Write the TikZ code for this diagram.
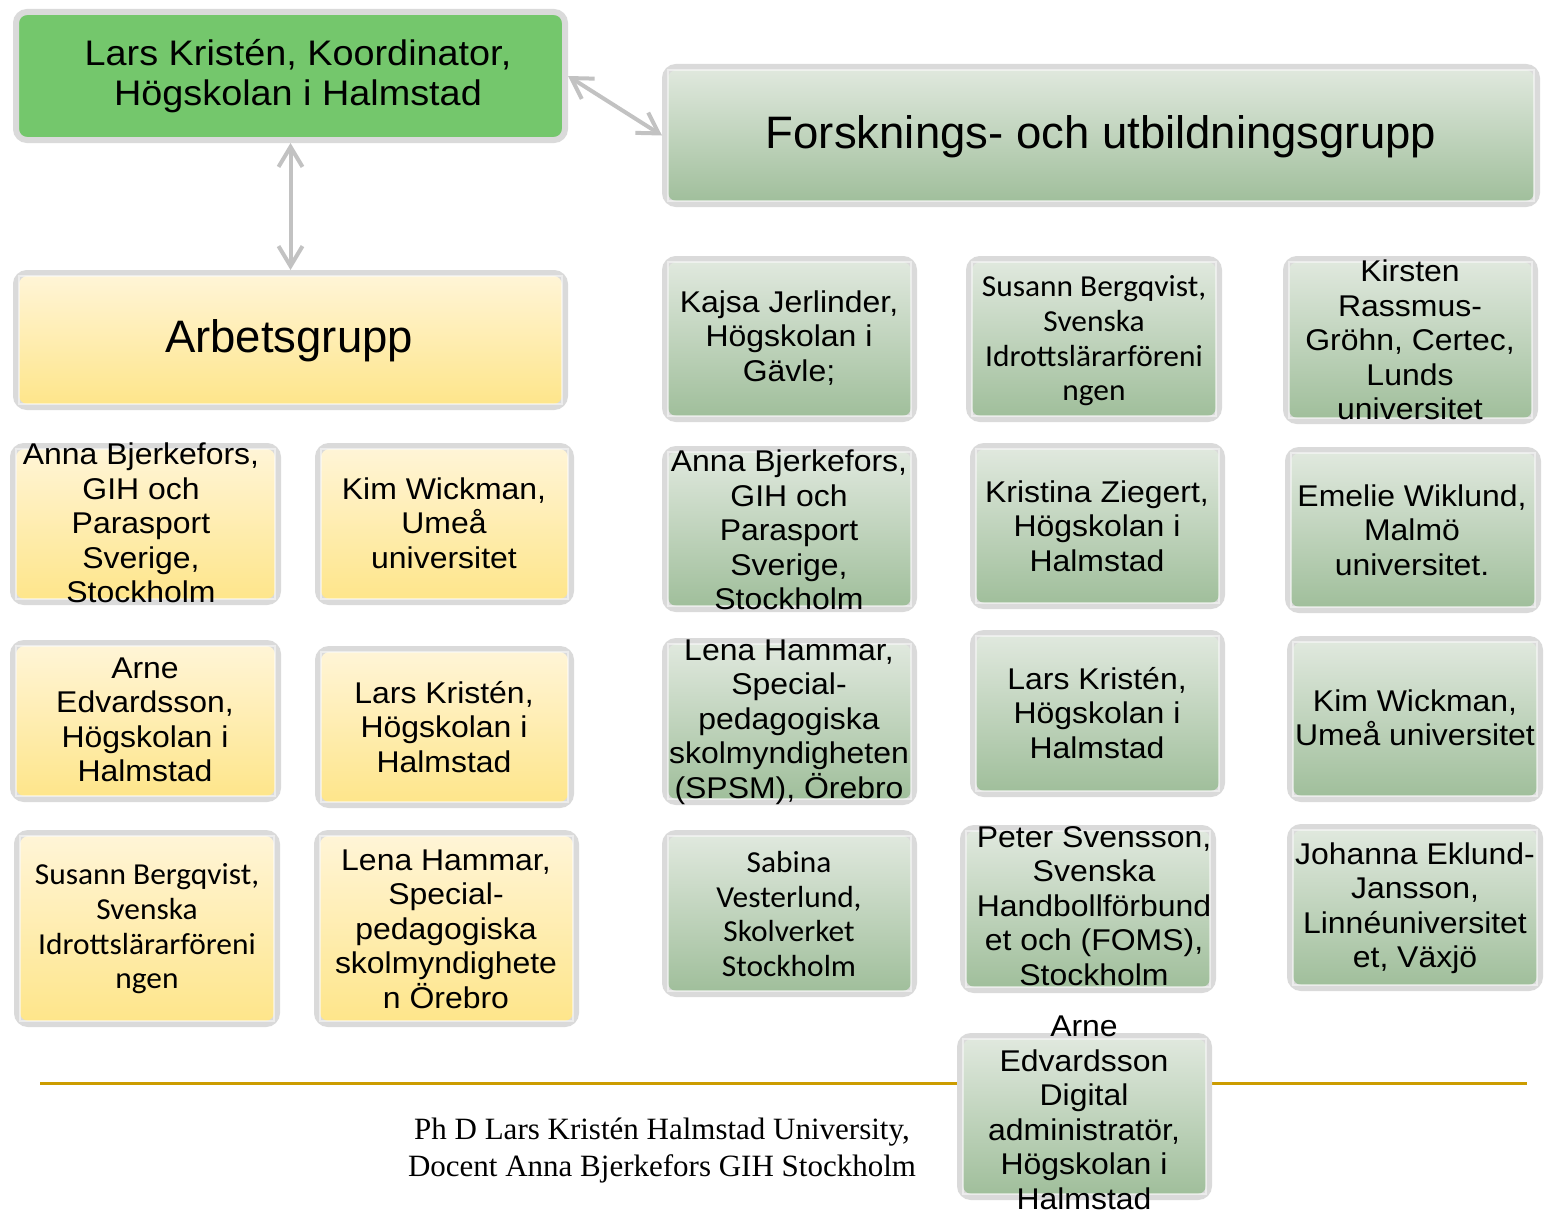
\documentclass[tikz,border=0pt]{standalone}
\usepackage{fontspec}
\setmainfont{Liberation Sans}
\newfontfamily\arialw{Liberation Sans}[FakeStretch=1.065]
\newfontfamily\calfont{Carlito}[FakeStretch=1.03]
\newfontfamily\serfont{Liberation Serif}
\usetikzlibrary{arrows.meta,shadings}
\definecolor{boxgray}{HTML}{DADADA}
\definecolor{gtop}{HTML}{E1E9DF}
\definecolor{gbot}{HTML}{9FBE9A}
\definecolor{ytop}{HTML}{FFF5D8}
\definecolor{ybot}{HTML}{FEE589}
\definecolor{koordgreen}{HTML}{74C76C}
\definecolor{arrgray}{HTML}{C2C2C2}
\definecolor{gold}{HTML}{CC9C00}
\tikzset{
  boxbase/.style={rectangle, rounded corners=11pt, draw=boxgray, line width=6pt, inner sep=0pt},
  gbox/.style={boxbase, top color=gtop, bottom color=gbot},
  ybox/.style={boxbase, top color=ytop, bottom color=ybot},
  kbox/.style={boxbase, fill=koordgreen},
  innerline/.style={draw=white, draw opacity=0.5, line width=1.5pt},
  txt/.style={align=center, inner sep=0pt, text=black},
  ftA/.style={txt, font=\arialw\fontsize{30}{34.5}\selectfont},
  ftC/.style={txt, font=\calfont\fontsize{30.5}{34.6}\selectfont},
  conn/.style={draw=arrgray, line width=4pt, {Straight Barb[length=20pt,width=24pt]}-{Straight Barb[length=20pt,width=24pt]}},
}
% style, name, x1, y1, x2, y2
\newcommand\bx[6]{\node[#1, minimum width={#5-#3-6}, minimum height={#6-#4-6}] (#2) at ({(#3+#5)/2},{(#4+#6)/2}) {};}
\newcommand\bxi[6]{\bx{#1}{#2}{#3}{#4}{#5}{#6}\draw[innerline] ([shift={(6,-6)}]#2.south west) rectangle ([shift={(-6,6)}]#2.north east);}
\begin{document}
\begin{tikzpicture}[x=1pt,y=-1pt]
\useasboundingbox (0,0) rectangle (1546,1215);
% footer line
\coordinate (fl) at (40,1083);
\coordinate (fr) at (1527,1083);
\draw[gold, line width=3pt] (fl) -- (fr);
% main boxes
\bx{kbox}{koord}{13}{9}{568}{143}
\node[txt, font=\arialw\fontsize{35.5}{40}\selectfont] (koordt) at (298,76) {Lars Kristén, Koordinator,\\Högskolan i Halmstad};
\bxi{gbox}{forsk}{662}{64}{1540}{207}
\node[txt, font=\fontsize{45.5}{52}\selectfont] (forskt) at (1101,137) {Forsknings- och utbildningsgrupp};
\bxi{ybox}{arb}{13}{270}{568}{410}
\node[txt, font=\fontsize{45.5}{52}\selectfont] (arbt) at (289,341) {Arbetsgrupp};
% connectors
\draw[conn] (koord.south) -- (arb.north);
\draw[conn] (koord.east) -- (forsk.west);
% left yellow boxes
\bxi{ybox}{y11}{10}{443}{281}{605}
\node[ftA] (y11t) at (141,523) {Anna Bjerkefors,\\GIH och\\Parasport\\Sverige,\\Stockholm};
\bxi{ybox}{y12}{315}{443}{574}{605}
\node[ftA] (y12t) at (444,523) {Kim Wickman,\\Umeå\\universitet};
\bxi{ybox}{y21}{10}{640}{281}{802}
\node[ftA] (y21t) at (145,720) {Arne\\Edvardsson,\\Högskolan i\\Halmstad};
\bxi{ybox}{y22}{315}{646}{574}{808}
\node[ftA] (y22t) at (444,727) {Lars Kristén,\\Högskolan i\\Halmstad};
\bxi{ybox}{y31}{14}{830}{280}{1027}
\node[ftC] (y31t) at (147,929) {Susann Bergqvist,\\Svenska\\Idrottslärarföreni\\ngen};
\bxi{ybox}{y32}{314}{830}{579}{1027}
\node[ftA] (y32t) at (446,929) {Lena Hammar,\\Special-\\pedagogiska\\skolmyndighete\\n Örebro};
% right green boxes, column 1
\bxi{gbox}{g11}{662}{256}{917}{422}
\node[ftA] (g11t) at (789,338) {Kajsa Jerlinder,\\Högskolan i\\Gävle;};
\bxi{gbox}{g21}{662}{446}{917}{612}
\node[ftA] (g21t) at (789,530) {Anna Bjerkefors,\\GIH och\\Parasport\\Sverige,\\Stockholm};
\bxi{gbox}{g31}{662}{638}{917}{805}
\node[ftA] (g31t) at (789,722) {Lena Hammar,\\Special-\\pedagogiska\\skolmyndigheten\\(SPSM), Örebro};
\bxi{gbox}{g41}{662}{830}{917}{997}
\node[ftC] (g41t) at (789,914) {Sabina\\Vesterlund,\\Skolverket\\Stockholm};
% column 2
\bxi{gbox}{g12}{966}{256}{1222}{422}
\node[ftC] (g12t) at (1094,341) {Susann Bergqvist,\\Svenska\\Idrottslärarföreni\\ngen};
\bxi{gbox}{g22}{970}{443}{1225}{609}
\node[ftA] (g22t) at (1097,526) {Kristina Ziegert,\\Högskolan i\\Halmstad};
\bxi{gbox}{g32}{970}{630}{1225}{797}
\node[ftA] (g32t) at (1097,713) {Lars Kristén,\\Högskolan i\\Halmstad};
\bxi{gbox}{g42}{960}{825}{1216}{993}
\node[ftA] (g42t) at (1094,906) {Peter Svensson,\\Svenska\\Handbollförbund\\et och (FOMS),\\Stockholm};
\bxi{gbox}{g52}{957}{1033}{1212}{1200}
\node[ftA] (g52t) at (1084,1113) {Arne\\Edvardsson\\Digital\\administratör,\\Högskolan i\\Halmstad};
% column 3
\bxi{gbox}{g13}{1283}{256}{1538}{424}
\node[ftA] (g13t) at (1410,340) {Kirsten\\Rassmus-\\Gröhn, Certec,\\Lunds\\universitet};
\bxi{gbox}{g23}{1285}{447}{1541}{613}
\node[ftA] (g23t) at (1412,530) {Emelie Wiklund,\\Malmö\\universitet.};
\bxi{gbox}{g33}{1287}{636}{1543}{802}
\node[ftA] (g33t) at (1415,718) {Kim Wickman,\\Umeå universitet};
\bxi{gbox}{g43}{1287}{824}{1543}{991}
\node[ftA] (g43t) at (1415,908) {Johanna Eklund-\\Jansson,\\Linnéuniversitet\\et, Växjö};
% footer text
\node[txt, font=\serfont\fontsize{31}{37}\selectfont] (foot) at (662,1151) {Ph D Lars Kristén Halmstad University,\\Docent Anna Bjerkefors GIH Stockholm};
\end{tikzpicture}
\end{document}
